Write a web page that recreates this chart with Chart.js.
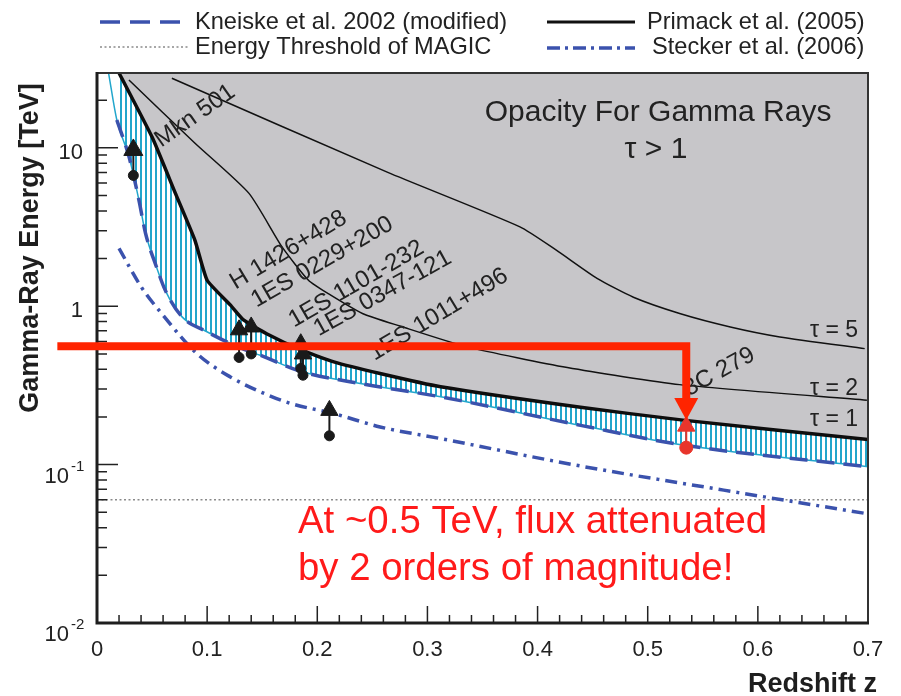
<!DOCTYPE html>
<html>
<head>
<meta charset="utf-8">
<title>Opacity for gamma rays</title>
<script src="https://cdn.jsdelivr.net/npm/chart.js@4.4.1/dist/chart.umd.min.js"></script>
<style>
  html, body { margin: 0; padding: 0; background: #fff; }
  #wrap { width: 901px; height: 696px; }
</style>
</head>
<body>
<div id="wrap"><canvas id="chart" width="901" height="696"></canvas></div>
<script>
const FONT = '"Liberation Sans", Arial, Helvetica, sans-serif';

// axis ranges and ticks
const zRange = [0, 0.7];
const eRange = [0.01, 29.7];
const xTickValues = [0, 0.1, 0.2, 0.3, 0.4, 0.5, 0.6, 0.7];
const xTickLabels = ['0', '0.1', '0.2', '0.3', '0.4', '0.5', '0.6', '0.7'];
const yTickValues = [0.01, 0.1, 1, 10];
const yTickBases = ['10', '10', '1', '10'];
const yTickExponents = ['-2', '-1', '', ''];

// Primack et al. (2005) optical depth contours
const primack1Z = [0.020, 0.050, 0.071, 0.089, 0.100, 0.121, 0.133, 0.154, 0.185, 0.215, 0.257, 0.312, 0.439, 0.532, 0.700];
const primack1E = [29.7, 11.7, 5.2, 2.6, 1.46, 1.02, 0.82, 0.67, 0.53, 0.445, 0.376, 0.31, 0.23, 0.191, 0.144];
const primack2Z = [0.029, 0.089, 0.138, 0.168, 0.192, 0.210, 0.241, 0.275, 0.336, 0.427, 0.529, 0.699];
const primack2E = [26.8, 10.7, 5.16, 2.37, 1.46, 1.2, 0.90, 0.75, 0.554, 0.41, 0.32, 0.255];
const primack5Z = [0.068, 0.264, 0.384, 0.417, 0.454, 0.487, 0.529, 0.575, 0.620, 0.697];
const primack5E = [27.5, 7.0, 3.17, 2.26, 1.50, 1.14, 0.90, 0.74, 0.64, 0.54];

// Kneiske et al. 2002 (modified), tau = 1
const kneiskeZ = [0.018, 0.029, 0.038, 0.044, 0.054, 0.062, 0.077, 0.098, 0.129, 0.152, 0.184, 0.239, 0.312, 0.439, 0.532, 0.700];
const kneiskeE = [15.0, 8.8, 4.7, 2.9, 1.77, 1.26, 0.86, 0.70, 0.55, 0.479, 0.39, 0.325, 0.268, 0.177, 0.133, 0.097];
// lower edge of the hatched band (runs up to the top of the frame)
const bandEdgeZ = [0.0105, 0.018, 0.029, 0.038, 0.044, 0.054, 0.062, 0.077, 0.098, 0.129, 0.152, 0.184, 0.239, 0.312, 0.439, 0.532, 0.700];
const bandEdgeE = [29.7, 15.0, 8.8, 4.7, 2.9, 1.77, 1.26, 0.86, 0.70, 0.55, 0.479, 0.39, 0.325, 0.268, 0.177, 0.133, 0.097];

// Stecker et al. (2006), tau = 1
const steckerZ = [0.020, 0.040, 0.061, 0.091, 0.121, 0.152, 0.176, 0.215, 0.257, 0.312, 0.439, 0.569, 0.699];
const steckerE = [2.32, 1.33, 0.86, 0.50, 0.358, 0.281, 0.243, 0.210, 0.173, 0.146, 0.098, 0.069, 0.049];

// MAGIC energy threshold
const thresholdZ = [0, 0.7];
const thresholdE = [0.06, 0.06];

// observed sources: highest energy seen (triangle) and measured point (circle)
const sourceNames = ['Mkn 501', 'H 1426+428', '1ES 0229+200', '1ES 1101-232', '1ES 0347-121', '1ES 1011+496', '3C 279'];
const sourceZ = [0.033, 0.129, 0.140, 0.185, 0.187, 0.211, 0.535];
const limitE = [9.7, 0.71, 0.74, 0.58, 0.50, 0.22, 0.175];
const measuredE = [6.7, 0.475, 0.50, 0.405, 0.367, 0.152, 0.128];

// the 0.5 TeV guide arrow
const guideStartZ = -0.036;
const guideZ = 0.535;
const guideE = 0.56;
const guideTipE = 0.191;

const pts = (xs, ys) => xs.map((x, i) => ({ x: x, y: ys[i] }));

const stemPoints = [];
sourceZ.forEach((z, i) => {
  stemPoints.push({ x: z, y: measuredE[i] }, { x: z, y: limitE[i] }, { x: z, y: null });
});
const markColors = sourceNames.map(n => n === '3C 279' ? '#e8352c' : '#1a1a1a');

function hatchPattern() {
  const c = document.createElement('canvas');
  c.width = 5; c.height = 5;
  const g = c.getContext('2d');
  g.fillStyle = '#ffffff';
  g.fillRect(0, 0, 5, 5);
  g.fillStyle = '#22a6cc';
  g.fillRect(0, 0, 2, 5);
  return g.createPattern(c, 'repeat');
}

// text placed along the curves, in data coordinates
const curveLabels = [
  { text: 'Mkn 501', z: 0.089, e: 15.9, angle: -35 },
  { text: 'H 1426+428', z: 0.1737, e: 2.26, angle: -31 },
  { text: '1ES 0229+200', z: 0.2044, e: 1.90, angle: -30 },
  { text: '1ES 1101-232', z: 0.2355, e: 1.38, angle: -30 },
  { text: '1ES 0347-121', z: 0.2593, e: 1.205, angle: -29 },
  { text: '1ES 1011+496', z: 0.3101, e: 0.885, angle: -31 },
  { text: '3C 279', z: 0.565, e: 0.385, angle: -29 }
];
const tauLabels = [
  { text: '\u03c4 = 5', e: 0.706 },
  { text: '\u03c4 = 2', e: 0.30 },
  { text: '\u03c4 = 1', e: 0.191 }
];

function strokeSample(ctx, x1, x2, y, color, width, dash) {
  ctx.save();
  ctx.strokeStyle = color;
  ctx.lineWidth = width;
  ctx.setLineDash(dash);
  ctx.beginPath();
  ctx.moveTo(x1, y);
  ctx.lineTo(x2, y);
  ctx.stroke();
  ctx.restore();
}

const decorations = {
  id: 'decorations',
  afterDatasetsDraw(chart) {
    const { ctx, chartArea: a, scales: { x, y } } = chart;
    ctx.save();

    // inward tick marks
    ctx.strokeStyle = '#222';
    ctx.lineWidth = 1.5;
    ctx.beginPath();
    for (let i = 0; i <= 35; i++) {
      const px = x.getPixelForValue(i * 0.02);
      const len = i % 5 === 0 ? 17 : 8;
      ctx.moveTo(px, a.bottom);
      ctx.lineTo(px, a.bottom - len);
    }
    yTickValues.forEach(d => {
      for (let m = 1; m <= 9; m++) {
        const v = d * m;
        if (v > eRange[1]) break;
        const py = y.getPixelForValue(v);
        ctx.moveTo(a.left, py);
        ctx.lineTo(a.left + (m === 1 ? 21 : 10), py);
      }
    });
    ctx.stroke();

    // frame
    ctx.strokeStyle = '#333';
    ctx.lineWidth = 2;
    ctx.beginPath();
    ctx.moveTo(a.left, a.top);
    ctx.lineTo(a.right, a.top);
    ctx.lineTo(a.right, a.bottom);
    ctx.stroke();
    ctx.strokeStyle = '#1e1e1e';
    ctx.lineWidth = 3;
    ctx.beginPath();
    ctx.moveTo(a.left, a.top - 1);
    ctx.lineTo(a.left, a.bottom);
    ctx.lineTo(a.right + 1, a.bottom);
    ctx.stroke();

    // labels along the curves
    ctx.fillStyle = '#222';
    ctx.font = '24px ' + FONT;
    ctx.textAlign = 'center';
    ctx.textBaseline = 'middle';
    curveLabels.forEach(l => {
      ctx.save();
      ctx.translate(x.getPixelForValue(l.z), y.getPixelForValue(l.e));
      ctx.rotate(l.angle * Math.PI / 180);
      ctx.fillText(l.text, 0, 0);
      ctx.restore();
    });
    ctx.font = '23px ' + FONT;
    ctx.textAlign = 'right';
    tauLabels.forEach(l => {
      ctx.fillText(l.text, a.right - 10, y.getPixelForValue(l.e));
    });

    // region caption
    ctx.font = '30px ' + FONT;
    ctx.textAlign = 'center';
    ctx.textBaseline = 'alphabetic';
    ctx.fillText('Opacity For Gamma Rays', x.getPixelForValue(0.5094), a.top + 48);
    ctx.fillText('\u03c4 > 1', x.getPixelForValue(0.5075), a.top + 85);

    // tick labels
    ctx.fillStyle = '#222';
    ctx.font = '22px ' + FONT;
    ctx.textAlign = 'center';
    ctx.textBaseline = 'middle';
    xTickValues.forEach((v, i) => {
      ctx.fillText(xTickLabels[i], x.getPixelForValue(v), a.bottom + 27);
    });
    yTickValues.forEach((v, i) => {
      const py = y.getPixelForValue(v);
      ctx.textAlign = 'right';
      if (yTickExponents[i]) {
        ctx.font = '22px ' + FONT;
        ctx.fillText(yTickBases[i], a.left - 28, py + 12);
        ctx.font = '15px ' + FONT;
        ctx.textAlign = 'left';
        ctx.fillText(yTickExponents[i], a.left - 26, py + 2);
      } else {
        ctx.font = '22px ' + FONT;
        ctx.fillText(yTickBases[i], a.left - 14, py + 5);
      }
    });

    // axis titles
    ctx.font = 'bold 27px ' + FONT;
    ctx.fillStyle = '#1e1e1e';
    ctx.textAlign = 'right';
    ctx.fillText('Redshift z', a.right + 9, a.bottom + 62);
    ctx.save();
    ctx.translate(31, 248);
    ctx.rotate(-Math.PI / 2);
    ctx.textAlign = 'center';
    ctx.fillText('Gamma-Ray Energy [TeV]', 0, 0);
    ctx.restore();

    // legend
    ctx.font = '23.6px ' + FONT;
    ctx.fillStyle = '#222';
    ctx.textAlign = 'left';
    strokeSample(ctx, 100, 183, 22, '#3b52ad', 3.5, [20, 10]);
    ctx.fillText('Kneiske et al. 2002 (modified)', 195, 22);
    strokeSample(ctx, 100, 190, 47, '#8a8a8a', 1.3, [2, 2.5]);
    ctx.fillText('Energy Threshold of MAGIC', 195, 47);
    strokeSample(ctx, 547, 635, 22, '#111', 3, []);
    ctx.fillText('Primack et al. (2005)', 647, 22);
    strokeSample(ctx, 547, 635, 48, '#3b52ad', 3.5, [13, 5, 3, 5]);
    ctx.fillText('Stecker et al. (2006)', 652, 47);

    ctx.restore();
  },
  afterDraw(chart) {
    const { ctx, scales: { x, y } } = chart;
    ctx.save();
    // 0.5 TeV guide and arrow onto 3C 279
    const x0 = x.getPixelForValue(guideStartZ);
    const xc = x.getPixelForValue(guideZ);
    const yh = y.getPixelForValue(guideE);
    const yt = y.getPixelForValue(guideTipE);
    ctx.strokeStyle = '#ff2400';
    ctx.fillStyle = '#ff2400';
    ctx.lineWidth = 8;
    ctx.lineJoin = 'miter';
    ctx.beginPath();
    ctx.moveTo(x0, yh);
    ctx.lineTo(xc, yh);
    ctx.lineTo(xc, yt - 18);
    ctx.stroke();
    ctx.beginPath();
    ctx.moveTo(xc - 12, yt - 22);
    ctx.lineTo(xc + 12, yt - 22);
    ctx.lineTo(xc, yt);
    ctx.closePath();
    ctx.fill();

    ctx.fillStyle = '#ff1a1a';
    ctx.font = '38.4px ' + FONT;
    ctx.textAlign = 'left';
    ctx.textBaseline = 'alphabetic';
    ctx.fillText('At ~0.5 TeV, flux attenuated', 298, 533);
    ctx.fillText('by 2 orders of magnitude!', 298, 580);
    ctx.restore();
  }
};

const ctx = document.getElementById('chart').getContext('2d');

new Chart(ctx, {
  type: 'line',
  data: {
    datasets: [
      {
        label: 'measured',
        data: pts(sourceZ, measuredE),
        showLine: false,
        pointStyle: 'circle',
        pointRadius: sourceNames.map(n => n === '3C 279' ? 6.5 : 5),
        pointBackgroundColor: markColors,
        pointBorderColor: markColors,
        pointBorderWidth: 1
      },
      {
        label: 'highest energy',
        data: pts(sourceZ, limitE),
        showLine: false,
        pointStyle: 'triangle',
        pointRadius: sourceNames.map(n => n === 'Mkn 501' ? 11 : 10),
        pointBackgroundColor: markColors,
        pointBorderColor: markColors,
        pointBorderWidth: 1
      },
      {
        label: 'stems',
        data: stemPoints,
        borderColor: '#1a1a1a',
        borderWidth: 2,
        spanGaps: false,
        pointRadius: 0,
        segment: {
          borderColor: c => c.p0DataIndex >= 18 ? '#e8352c' : '#1a1a1a'
        }
      },
      {
        label: 'Primack tau=5',
        data: pts(primack5Z, primack5E),
        borderColor: '#111',
        borderWidth: 1.5,
        pointRadius: 0,
        tension: 0.2
      },
      {
        label: 'Primack tau=2',
        data: pts(primack2Z, primack2E),
        borderColor: '#111',
        borderWidth: 1.5,
        pointRadius: 0,
        tension: 0.2
      },
      {
        label: 'Kneiske et al. 2002 (modified)',
        data: pts(kneiskeZ, kneiskeE),
        borderColor: '#3b52ad',
        borderWidth: 3.5,
        borderDash: [18, 9],
        pointRadius: 0,
        cubicInterpolationMode: 'monotone'
      },
      {
        label: 'Stecker et al. (2006)',
        data: pts(steckerZ, steckerE),
        borderColor: '#3b52ad',
        borderWidth: 3.5,
        borderDash: [12, 6, 3, 6],
        pointRadius: 0,
        cubicInterpolationMode: 'monotone'
      },
      {
        label: 'Energy Threshold of MAGIC',
        data: pts(thresholdZ, thresholdE),
        borderColor: '#8a8a8a',
        borderWidth: 1.3,
        borderDash: [2, 2.5],
        pointRadius: 0
      },
      {
        label: 'Primack tau=1',
        data: pts(primack1Z, primack1E),
        borderColor: '#0d0d0d',
        borderWidth: 3.5,
        pointRadius: 0,
        tension: 0.15,
        fill: 'end',
        backgroundColor: '#c7c6c9'
      },
      {
        label: 'band edge',
        data: pts(bandEdgeZ, bandEdgeE),
        borderColor: '#22a6cc',
        borderWidth: 1.5,
        pointRadius: 0,
        cubicInterpolationMode: 'monotone',
        fill: 8,
        backgroundColor: hatchPattern()
      }
    ]
  },
  options: {
    responsive: false,
    animation: false,
    devicePixelRatio: 1,
    layout: { padding: { left: 97, right: 33, top: 73, bottom: 73 } },
    scales: {
      x: { type: 'linear', min: zRange[0], max: zRange[1], display: false },
      y: { type: 'logarithmic', min: eRange[0], max: eRange[1], display: false }
    },
    plugins: {
      legend: { display: false },
      tooltip: { enabled: false }
    }
  },
  plugins: [decorations]
});
</script>
</body>
</html>
